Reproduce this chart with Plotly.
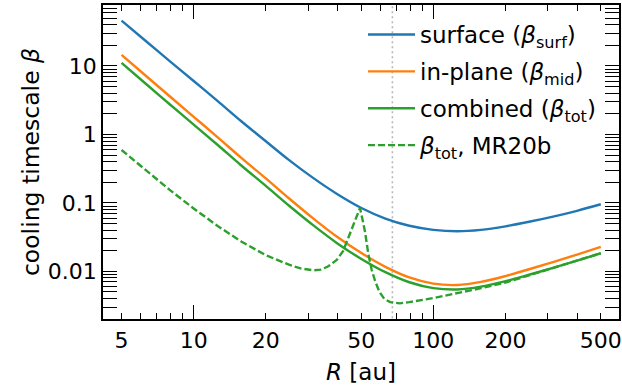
import plotly.graph_objects as go

# ---------------- data ----------------
R_surf = [5, 6.31, 7.94, 10, 12.6, 15.8, 20, 25.1, 31.6, 39.8, 50.1, 63.1, 79.4,
          100, 126, 158, 200, 251, 316, 398, 500]
beta_surf = [45.9, 23.2, 11.8, 6.03, 3.07, 1.56, 0.796, 0.418, 0.230, 0.134, 0.0843,
             0.0590, 0.0463, 0.0404, 0.0385, 0.0404, 0.0455, 0.0530, 0.0631, 0.0767, 0.0955]

R_mid = [5, 6.31, 7.94, 10, 12.6, 15.8, 20, 25.1, 31.6, 39.8, 50.1, 63.1, 79.4,
         100, 126, 158, 200, 251, 316, 398, 500]
beta_mid = [14.5, 7.21, 3.61, 1.81, 0.908, 0.455, 0.228, 0.115, 0.0590, 0.0317, 0.0185,
            0.01164, 0.00815, 0.00662, 0.00632, 0.00701, 0.00853, 0.01074, 0.01368,
            0.01762, 0.0228]

R_tot = [5, 6.31, 7.94, 10, 12.6, 15.8, 20, 25.1, 31.6, 39.8, 50.1, 63.1, 79.4,
         100, 126, 158, 200, 251, 316, 398, 500]
beta_tot = [11.1, 5.50, 2.76, 1.392, 0.701, 0.352, 0.1772, 0.0902, 0.0469, 0.0256,
            0.01517, 0.00972, 0.00693, 0.00569, 0.00543, 0.00597, 0.00718, 0.00893,
            0.01124, 0.01433, 0.0184]

R_mr20b = [5, 6.31, 7.94, 10, 12.59, 15.85, 19.95, 25.12, 28.18, 31.62, 33.88, 36.31,
           39.54, 42.07, 44.16, 46.24, 47.86, 49.43, 50.70, 51.88, 53.58, 55.34, 57.15,
           59.57, 62.37, 66.07, 72.44, 79.43, 100, 125.9, 158.5, 199.5, 251.2, 316.2,
           398.1, 500]
beta_mr20b = [0.593, 0.2985, 0.155, 0.0828, 0.0460, 0.0271, 0.0173, 0.01239, 0.01096,
              0.01035, 0.01059, 0.01175, 0.01466, 0.01995, 0.0302, 0.0468, 0.0631, 0.0841,
              0.0562, 0.0380, 0.01778, 0.01047, 0.00724, 0.00501, 0.00398, 0.00355,
              0.00341, 0.00355, 0.00407, 0.00479, 0.00569, 0.00684, 0.00871, 0.01117,
              0.01429, 0.01837]

R_marker = 67.5  # vertical dotted line

x_tickvals = [5, 10, 20, 50, 100, 200, 500]
x_ticktext = ["5", "10", "20", "50", "100", "200", "500"]
y_tickvals = [0.01, 0.1, 1, 10]
y_ticktext = ["0.01", "0.1", "1", "10"]

names = [
    "surface (<i>β</i><sub>surf</sub>)",
    "in-plane (<i>β</i><sub>mid</sub>)",
    "combined (<i>β</i><sub>tot</sub>)",
    "<i>β</i><sub>tot</sub>, MR20b",
]
colors = ["#1f77b4", "#ff7f0e", "#2ca02c", "#2ca02c"]

FONT = "DejaVu Sans"
XR = [0.6215, 2.775]
YR = [-2.696, 1.891]

fig = go.Figure()

# vertical dotted line
fig.add_trace(go.Scatter(x=[R_marker, R_marker], y=[1e-4, 1e3], mode="lines",
                         line=dict(color="#b8b8b8", width=1.6, dash="2px,3px"),
                         showlegend=False, hoverinfo="skip"))

series = [(R_surf, beta_surf, "solid", "spline"), (R_mid, beta_mid, "solid", "spline"),
          (R_tot, beta_tot, "solid", "spline"), (R_mr20b, beta_mr20b, "7px,3px", "linear")]
for i, (xs, ys, dash, shape) in enumerate(series):
    fig.add_trace(go.Scatter(
        x=xs, y=ys, mode="lines", name=names[i], legendgroup=f"g{i}",
        line=dict(color=colors[i], width=2.4, dash=dash, shape=shape),
        hoverinfo="skip"))

# invisible trace carrying the labelled (5, 20, 50 ...) tick axis
fig.add_trace(go.Scatter(x=R_surf, y=beta_surf, xaxis="x2", mode="lines",
                         line=dict(width=0), opacity=0, showlegend=False,
                         hoverinfo="skip"))

minor_common = dict(ticks="inside", ticklen=6.5, tickwidth=1.1, tickcolor="black",
                    dtick="D1", showgrid=False)

fig.update_layout(
    template="none",
    width=622, height=386,
    margin=dict(l=103, r=3, t=5, b=67, pad=0),
    paper_bgcolor="white", plot_bgcolor="white",
    font=dict(family=FONT, size=22, color="black"),
    showlegend=True,
    legend=dict(x=(363 - 103) / 516, xanchor="left", y=0.9745, yanchor="top",
                bgcolor="rgba(0,0,0,0)", borderwidth=0, itemwidth=47,
                font=dict(family=FONT, size=23, color="black"),
                tracegroupgap=4, traceorder="grouped"),
    xaxis=dict(type="log", range=XR, tickmode="array", tickvals=[10, 100],
               ticks="inside", ticklen=14, tickwidth=1.3, tickcolor="black",
               showticklabels=False, minor=minor_common,
               showline=True, linecolor="black", linewidth=1.5, mirror="allticks",
               showgrid=False, zeroline=False, automargin=False),
    xaxis2=dict(type="log", range=XR, overlaying="x", anchor="y", side="bottom",
                tickmode="array", tickvals=x_tickvals, ticktext=x_ticktext,
                ticks="", showline=False, showgrid=False, zeroline=False,
                ticklabelstandoff=6,
                tickfont=dict(family=FONT, size=22, color="black"),
                title=dict(text="<i>R</i> [au]", font=dict(family=FONT, size=23),
                           standoff=11),
                automargin=False),
    yaxis=dict(type="log", range=YR, tickmode="array", tickvals=y_tickvals,
               ticktext=y_ticktext, ticks="inside", ticklen=14, tickwidth=1.3,
               tickcolor="black", minor=minor_common,
               tickfont=dict(family=FONT, size=22, color="black"),
               showline=True, linecolor="black", linewidth=1.5, mirror="allticks",
               showgrid=False, zeroline=False, automargin=False,
               title=dict(text="cooling timescale <i>β</i>",
                          font=dict(family=FONT, size=23.5), standoff=2)),
)

fig.write_html("out.html")
